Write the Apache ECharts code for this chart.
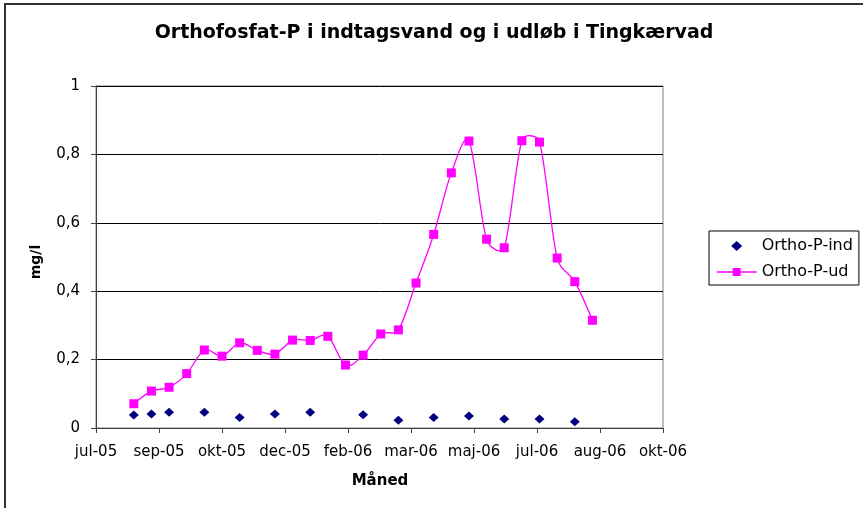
<!DOCTYPE html>
<html>
<head>
<meta charset="utf-8">
<script src="https://cdn.jsdelivr.net/npm/echarts@6/dist/echarts.min.js"></script>
<style>
html,body{margin:0;padding:0;background:#fff;}
#chart{width:863px;height:508px;}
</style>
</head>
<body>
<div id="chart"></div>
<script>
// ---- data ----
var titleText = 'Orthofosfat-P i indtagsvand og i udløb i Tingkærvad';
var xAxisTitle = 'Måned';
var yAxisTitle = 'mg/l';
var seriesNames = ['Ortho-P-ind', 'Ortho-P-ud'];
var monthNames = ['jan','feb','mar','apr','maj','jun','jul','aug','sep','okt','nov','dec'];

var datesInd = ['2005-08-16','2005-08-30','2005-09-13','2005-10-11','2005-11-08','2005-12-06',
  '2006-01-03','2006-02-14','2006-03-14','2006-04-11','2006-05-09','2006-06-06','2006-07-04','2006-08-01'];
var valuesInd = [0.038,0.041,0.046,0.046,0.031,0.041,0.046,0.039,0.023,0.031,0.035,0.026,0.026,0.018];

var datesUd = ['2005-08-16','2005-08-30','2005-09-13','2005-09-27','2005-10-11','2005-10-25','2005-11-08',
  '2005-11-22','2005-12-06','2005-12-20','2006-01-03','2006-01-17','2006-01-31','2006-02-14','2006-02-28',
  '2006-03-14','2006-03-28','2006-04-11','2006-04-25','2006-05-09','2006-05-23','2006-06-06','2006-06-20',
  '2006-07-04','2006-07-18','2006-08-01','2006-08-15'];
var valuesUd = [0.071,0.108,0.119,0.159,0.228,0.210,0.249,0.227,0.216,0.257,0.256,0.268,0.184,0.213,0.275,
  0.287,0.424,0.566,0.746,0.839,0.552,0.527,0.840,0.836,0.497,0.428,0.315];

// x axis in spreadsheet day serials
var xMin = 38550, xMax = 39000, xStep = 50;
var yMin = 0, yMax = 1, yStep = 0.2;

var EPOCH = Date.UTC(1899, 11, 30);
function toSerial(s) {
  var p = s.split('-');
  return Math.round((Date.UTC(+p[0], +p[1]-1, +p[2]) - EPOCH) / 86400000);
}
function serialLabel(v) {
  var d = new Date(EPOCH + v * 86400000);
  return monthNames[d.getUTCMonth()] + '-' + String(d.getUTCFullYear()).slice(2);
}
function pairs(dates, vals) {
  return dates.map(function (d, i) { return [toSerial(d), vals[i]]; });
}
var indData = pairs(datesInd, valuesInd);
var udData = pairs(datesUd, valuesUd);

var PINK = '#ff00ff', NAVY = '#000080';
var SMOOTH = 0.5, MAXF = 1 / 6;
var DIAMOND = 'path://M5,0L10,4.5L5,9L0,4.5Z';

// spreadsheet-style smoothed segment between point i and i+1 (control points via pixel coords)
function renderSmoothSegment(params, api) {
  var i = params.dataIndex, n = udData.length;
  if (i >= n - 1) return null;
  function c(j) { j = Math.max(0, Math.min(n - 1, j)); return api.coord(udData[j]); }
  var p0 = c(i - 1), p1 = c(i), p2 = c(i + 1), p3 = c(i + 2);
  function dist(a, b) { return Math.sqrt((a[0]-b[0])*(a[0]-b[0]) + (a[1]-b[1])*(a[1]-b[1])); }
  var d01 = dist(p0, p1), d12 = dist(p1, p2), d23 = dist(p2, p3);
  var cp1 = p1.slice(), cp2 = p2.slice();
  if (i > 0 && d01 + d12 > 0) {
    var r1 = Math.min(d12 / (d01 + d12) * SMOOTH, MAXF);
    cp1 = [p1[0] + (p2[0]-p0[0]) * r1, p1[1] + (p2[1]-p0[1]) * r1];
  }
  if (i + 2 < n && d12 + d23 > 0) {
    var r2 = Math.min(d12 / (d12 + d23) * SMOOTH, MAXF);
    cp2 = [p2[0] - (p3[0]-p1[0]) * r2, p2[1] - (p3[1]-p1[1]) * r2];
  }
  return {
    type: 'bezierCurve',
    shape: {x1: p1[0], y1: p1[1], x2: p2[0], y2: p2[1],
            cpx1: cp1[0], cpy1: cp1[1], cpx2: cp2[0], cpy2: cp2[1]},
    style: {stroke: PINK, lineWidth: 1.3, fill: null},
    silent: true
  };
}

var FONT = 'DejaVu Sans';
var chart = echarts.init(document.getElementById('chart'), null, {renderer: 'canvas'});
chart.setOption({
  animation: false,
  backgroundColor: '#ffffff',
  graphic: [
    {type: 'rect', shape: {x: 5, y: 4, width: 900, height: 600},
     style: {fill: 'none', stroke: '#333', lineWidth: 2}, silent: true, z: 100},
    {type: 'text', x: 434, y: 33,
     style: {text: titleText, font: 'bold 19px "DejaVu Sans"', fill: '#000',
             textAlign: 'center', textVerticalAlign: 'middle'}},
    {type: 'text', x: 36, y: 262, rotation: Math.PI / 2,
     style: {text: yAxisTitle, font: 'bold 14px "DejaVu Sans"', fill: '#000',
             textAlign: 'center', textVerticalAlign: 'middle'}},
    {type: 'text', x: 380, y: 481,
     style: {text: xAxisTitle, font: 'bold 15px "DejaVu Sans"', fill: '#000',
             textAlign: 'center', textVerticalAlign: 'middle'}}
  ],
  grid: {left: 96, right: 200, top: 86, bottom: 80, show: true,
         borderColor: '#808080', borderWidth: 1, backgroundColor: '#fff'},
  legend: {
    orient: 'vertical', left: 709, top: 231,
    padding: [7, 6, 5, 7], itemGap: 10, itemWidth: 40, itemHeight: 10,
    symbolKeepAspect: true,
    borderColor: '#000', borderWidth: 1,
    data: [{name: seriesNames[0], icon: DIAMOND}, {name: seriesNames[1]}],
    lineStyle: {color: PINK, width: 1.3, opacity: 1},
    textStyle: {fontFamily: FONT, fontSize: 16, color: '#000', lineHeight: 16}
  },
  xAxis: {
    type: 'value', min: xMin, max: xMax, interval: xStep,
    axisLine: {lineStyle: {color: '#404040', width: 1}},
    axisTick: {show: true, inside: false, length: 5, lineStyle: {color: '#404040'}},
    axisLabel: {fontFamily: FONT, fontSize: 15, color: '#000', margin: 17,
                formatter: function (v) { return serialLabel(v); }},
    splitLine: {show: false}
  },
  yAxis: {
    type: 'value', min: yMin, max: yMax, interval: yStep,
    axisLine: {show: true, lineStyle: {color: '#404040', width: 1}},
    axisTick: {show: true, inside: false, length: 5, lineStyle: {color: '#404040'}},
    axisLabel: {fontFamily: FONT, fontSize: 15, color: '#000', margin: 16,
                formatter: function (v) { return String(+v.toFixed(1)).replace('.', ','); }},
    splitLine: {show: true, lineStyle: {color: '#000', width: 1}}
  },
  series: [
    {
      name: seriesNames[0], type: 'scatter',
      symbol: DIAMOND, symbolSize: [10, 9],
      itemStyle: {color: NAVY, opacity: 1},
      data: indData, z: 4
    },
    {
      name: seriesNames[1] + ' curve', type: 'custom',
      renderItem: renderSmoothSegment,
      data: udData, z: 2, silent: true
    },
    {
      name: seriesNames[1], type: 'line',
      symbol: 'rect', symbolSize: 9, showSymbol: true,
      lineStyle: {color: PINK, width: 1.3, opacity: 0},
      itemStyle: {color: PINK, borderWidth: 0},
      data: udData, z: 3
    }
  ]
});
</script>
</body>
</html>
